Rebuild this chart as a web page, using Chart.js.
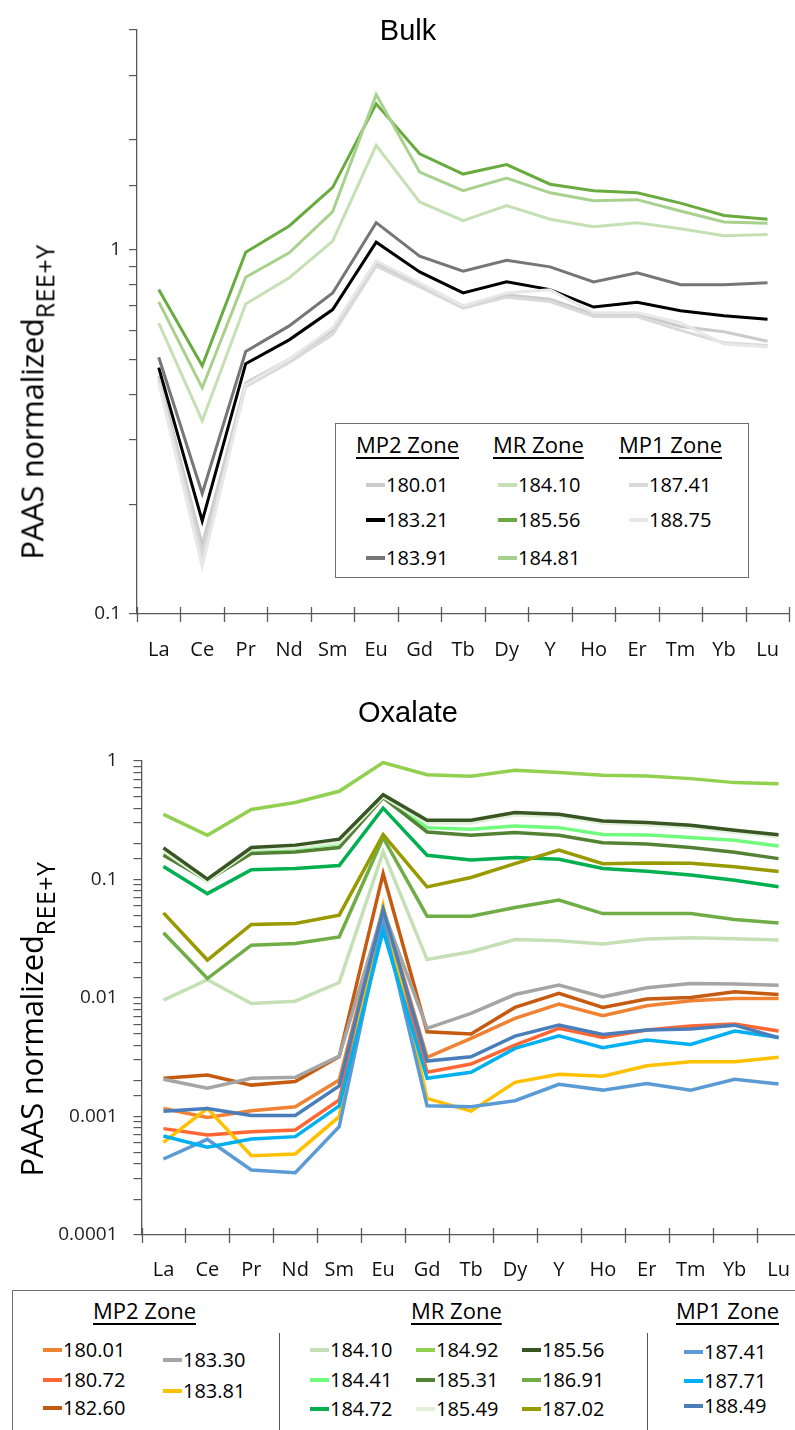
<!DOCTYPE html>
<html><head><meta charset="utf-8">
<script src="https://cdn.jsdelivr.net/npm/chart.js@4.4.1/dist/chart.umd.min.js"></script>
<style>
html,body{margin:0;padding:0;background:#fff;}
body{width:795px;height:1430px;overflow:hidden;position:relative;font-family:'Open Sans',sans-serif;color:#000;}
canvas{position:absolute;left:0;}
#c1{top:0;}
#c2{top:690px;}
.title{position:absolute;font-family:'Liberation Sans',Arial,sans-serif;font-size:29px;transform:translate(-50%,-50%);white-space:nowrap;}
.ytitle{position:absolute;font-size:31px;white-space:nowrap;transform:translate(-50%,-50%) rotate(-90deg);letter-spacing:-0.3px;line-height:1;}
.ytitle sub{font-size:25px;vertical-align:-0.45em;letter-spacing:0.5px;}
.box{position:absolute;border:1px solid #6f6f6f;background:#fff;}
.hdr{position:absolute;font-size:22px;text-decoration:underline;text-underline-offset:4px;text-decoration-thickness:2px;transform:translateY(-50%);white-space:nowrap;line-height:1;}
.ent{position:absolute;font-size:20px;transform:translateY(-50%);white-space:nowrap;line-height:1;}
.sw{position:absolute;height:4px;transform:translateY(-50%);}
.sep{position:absolute;width:1px;background:#555;}
</style>
</head><body>
<canvas id="c1" width="795" height="670"></canvas>
<canvas id="c2" width="805" height="600"></canvas>
<div id="ann"></div>
<script>
// ---------------- data ----------------
const categories = ['La','Ce','Pr','Nd','Sm','Eu','Gd','Tb','Dy','Y','Ho','Er','Tm','Yb','Lu'];

// Bulk samples
const bulkLabels = ['180.01','183.21','183.91','184.10','185.56','184.81','187.41','188.75'];
const bulk_180_01 = [0.45,0.155,0.43,0.50,0.60,0.92,0.80,0.70,0.75,0.73,0.665,0.665,0.615,0.595,0.56];
const bulk_183_21 = [0.474,0.180,0.486,0.565,0.684,1.047,0.868,0.76,0.815,0.776,0.695,0.716,0.679,0.658,0.644];
const bulk_183_91 = [0.506,0.214,0.525,0.617,0.76,1.185,0.958,0.872,0.934,0.896,0.815,0.863,0.80,0.80,0.81];
const bulk_184_10 = [0.628,0.339,0.709,0.836,1.054,1.93,1.35,1.20,1.32,1.21,1.155,1.184,1.14,1.09,1.10];
const bulk_185_56 = [0.776,0.48,0.983,1.16,1.48,2.51,1.83,1.61,1.71,1.51,1.45,1.43,1.34,1.24,1.21];
const bulk_184_81 = [0.718,0.417,0.839,0.979,1.27,2.66,1.63,1.45,1.57,1.43,1.36,1.37,1.275,1.19,1.18];
const bulk_187_41 = [0.44,0.145,0.42,0.49,0.585,0.90,0.79,0.69,0.74,0.72,0.655,0.655,0.60,0.555,0.545];
const bulk_188_75 = [0.43,0.135,0.425,0.50,0.61,0.93,0.81,0.70,0.76,0.775,0.67,0.67,0.63,0.55,0.54];
const bulkColors = ['#cbcbcb','#000000','#767676','#c5e0b4','#6aab40','#a9d18e','#d9d9d9','#e8e8e8'];

// Oxalate samples
const oxLabels = ['180.01','180.72','182.60','183.30','183.81','184.10','184.41','184.72','184.92','185.31','185.49','185.56','186.91','187.02','187.41','187.71','188.49'];
const ox_180_01 = [0.00117,0.00098,0.00112,0.00121,0.00203,0.058,0.00316,0.00456,0.00673,0.00889,0.00708,0.00859,0.00946,0.0099,0.0099];
const ox_180_72 = [0.00079,0.000698,0.000745,0.00077,0.00138,0.052,0.00236,0.00277,0.00401,0.00554,0.00465,0.00536,0.0058,0.00603,0.00526];
const ox_182_60 = [0.0021,0.00224,0.00184,0.00197,0.0032,0.112,0.00519,0.00496,0.00833,0.01094,0.00833,0.0098,0.0101,0.01128,0.0107];
const ox_183_30 = [0.00206,0.00173,0.0021,0.00214,0.00323,0.055,0.00554,0.00742,0.0107,0.01284,0.01023,0.0122,0.01328,0.0131,0.01284];
const ox_183_81 = [0.000606,0.00117,0.000467,0.000483,0.000996,0.06,0.00142,0.00111,0.00194,0.00227,0.00219,0.00268,0.0029,0.0029,0.00316];
const ox_184_10 = [0.0096,0.0143,0.0090,0.0094,0.0135,0.171,0.0211,0.0246,0.0312,0.0304,0.0285,0.0314,0.0322,0.0316,0.0308];
const ox_184_41 = [0.165,0.097,0.177,0.183,0.201,0.497,0.274,0.266,0.283,0.274,0.24,0.238,0.226,0.214,0.192];
const ox_184_72 = [0.129,0.076,0.121,0.124,0.131,0.40,0.160,0.146,0.153,0.148,0.124,0.1175,0.109,0.0986,0.0867];
const ox_184_92 = [0.355,0.236,0.39,0.446,0.555,0.97,0.767,0.743,0.835,0.80,0.757,0.748,0.71,0.657,0.644];
const ox_185_31 = [0.160,0.0986,0.166,0.171,0.186,0.49,0.252,0.236,0.249,0.236,0.204,0.199,0.186,0.17,0.150];
const ox_185_49 = [0.175,0.097,0.18,0.185,0.205,0.50,0.30,0.30,0.35,0.34,0.30,0.29,0.275,0.25,0.23];
const ox_185_56 = [0.185,0.1007,0.186,0.195,0.219,0.52,0.316,0.316,0.367,0.355,0.312,0.302,0.287,0.26,0.239];
const ox_186_91 = [0.0355,0.0146,0.0279,0.0288,0.0328,0.225,0.049,0.049,0.058,0.067,0.0516,0.0516,0.0516,0.046,0.043];
const ox_187_02 = [0.0523,0.0209,0.0417,0.0426,0.050,0.239,0.0867,0.104,0.136,0.177,0.136,0.138,0.137,0.128,0.117];
const ox_187_41 = [0.000438,0.000642,0.000354,0.000336,0.00082,0.045,0.00123,0.00121,0.00136,0.00187,0.00167,0.0019,0.00167,0.00206,0.00188];
const ox_187_71 = [0.000685,0.00055,0.000646,0.000676,0.00123,0.037,0.0021,0.00236,0.00376,0.0048,0.0038,0.00442,0.00406,0.00526,0.00465];
const ox_188_49 = [0.00111,0.00117,0.00102,0.00102,0.00181,0.056,0.00294,0.00319,0.00477,0.0059,0.00493,0.00536,0.00547,0.0059,0.00462];
const oxColors = ['#f08234','#ff6633','#c55a11','#a5a5a5','#ffc000','#c5e0b4','#6ffb7c','#00b050','#92d050','#548235','#e2efda','#375623','#70ad47','#999900','#5b9bd5','#00b0f0','#4a7ebb'];

const bulkTicks = ['1','0.1'];
const oxTicks = ['1','0.1','0.01','0.001','0.0001'];

// ---------------- charts ----------------
const bulkSeries = [bulk_180_01,bulk_183_21,bulk_183_91,bulk_184_10,bulk_185_56,bulk_184_81,bulk_187_41,bulk_188_75];
const oxSeries = [ox_180_01,ox_180_72,ox_182_60,ox_183_30,ox_183_81,ox_184_10,ox_184_41,ox_184_72,ox_184_92,ox_185_31,ox_185_49,ox_185_56,ox_186_91,ox_187_02,ox_187_41,ox_187_71,ox_188_49];

const AX = '#595959';
const crossTicks = {
  id:'crossTicks',
  afterDraw(chart){
    const x = chart.scales.x, ctx = chart.ctx;
    const n = x.ticks.length, w = (x.right - x.left)/n;
    ctx.save(); ctx.strokeStyle = AX; ctx.lineWidth = 1.3; ctx.beginPath();
    for(let i=0;i<=n;i++){ const px = Math.round(x.left + i*w)+0.5; ctx.moveTo(px, x.top-7); ctx.lineTo(px, x.top+8); }
    ctx.stroke(); ctx.restore();
  }
};

function makeChart(id, labels, series, colors, lw, yMin, yMax, tickLabels, leftW, pad, yPad, xPad){
  const n = series.length;
  const datasets = series.map((d,i)=>({label:labels[i], data:d, borderColor:colors[i], backgroundColor:colors[i],
    borderWidth:lw, pointRadius:0, tension:0, order:n-i, borderJoinStyle:'miter'}));
  return new Chart(document.getElementById(id), {
    type:'line',
    data:{labels:categories, datasets},
    options:{
      responsive:false, animation:false, devicePixelRatio:1,
      layout:{padding:pad},
      plugins:{legend:{display:false}, tooltip:{enabled:false}, title:{display:false}},
      scales:{
        x:{type:'category', offset:true,
           grid:{display:false, offset:true},
           border:{display:true, color:AX, width:1.3},
           ticks:{color:'#111', font:{family:'Open Sans', size:20}, padding:xPad, maxRotation:0, autoSkip:false},
           afterFit(s){ s.height = 50; }},
        y:{type:'logarithmic', min:yMin, max:yMax,
           grid:{display:true, drawOnChartArea:false, drawTicks:true, tickLength:8, color:AX, lineWidth:1.2},
           border:{display:true, color:AX, width:1.3},
           ticks:{autoSkip:false, color:'#222', font:{family:'Open Sans', size:19}, padding:yPad,
             callback(v){ const l = Math.log10(v); if (Math.abs(l - Math.round(l)) < 1e-6){ const s = String(Number(Number(v).toPrecision(1))); return tickLabels.includes(s) ? s : ''; } return ''; }},
           afterFit(s){ s.width = leftW; }}
      }
    },
    plugins:[crossTicks]
  });
}

makeChart('c1', bulkLabels, bulkSeries, bulkColors, 3, 0.1, 4, bulkTicks, 137, {top:30,right:3,bottom:6,left:0}, 8, 16);
makeChart('c2', oxLabels, oxSeries, oxColors, 3.5, 0.0001, 1, oxTicks, 141.5, {top:71,right:3,bottom:5,left:0}, 16, 15);

// ---------------- annotations (titles, legends) ----------------
const ann = document.getElementById('ann');
function el(cls, html, style){ const d = document.createElement('div'); d.className = cls; d.innerHTML = html; Object.assign(d.style, style); ann.appendChild(d); return d; }
el('title','Bulk',{left:'408px',top:'30px'});
el('title','Oxalate',{left:'408px',top:'712px'});
el('ytitle','PAAS normalized<sub>REE+Y</sub>',{left:'37px',top:'402px'});
el('ytitle','PAAS normalized<sub>REE+Y</sub>',{left:'37px',top:'1019px'});

function entry(label, color, swX, swW, txtX, y, sw){
  el('sw','',{left:swX+'px',top:y+'px',width:swW+'px',background:color,height:(sw||4)+'px'});
  el('ent',label,{left:txtX+'px',top:y+'px'});
}
// Bulk legend
el('box','',{left:'335px',top:'423px',width:'412px',height:'153px'});
el('hdr','MP2 Zone',{left:'356px',top:'444px'});
el('hdr','MR Zone',{left:'493px',top:'444px'});
el('hdr','MP1 Zone',{left:'619px',top:'444px'});
const bRows = [485,520,558];
const bCols = [[0,1,2],[3,4,5],[6,7]];
const bColX = [366,498,629];
bCols.forEach((col,ci)=>col.forEach((si,ri)=>entry(bulkLabels[si], bulkColors[si], bColX[ci], 19, bColX[ci]+20, bRows[ri])));

// Oxalate legend
el('box','',{left:'12px',top:'1290px',width:'800px',height:'200px'});
el('hdr','MP2 Zone',{left:'93px',top:'1310px'});
el('hdr','MR Zone',{left:'411px',top:'1310px'});
el('hdr','MP1 Zone',{left:'676px',top:'1310px'});
el('sep','',{left:'279px',top:'1333px',height:'100px'});
el('sep','',{left:'647px',top:'1333px',height:'100px'});
const oxGroups = [
  {idx:[0,1,2], x:43, rows:[1350,1380,1408]},
  {idx:[3,4], x:163, rows:[1360,1391]},
  {idx:[5,6,7], x:310, rows:[1350,1380,1409]},
  {idx:[8,9,10], x:416, rows:[1350,1380,1409]},
  {idx:[11,12,13], x:522, rows:[1350,1380,1409]},
  {idx:[14,15,16], x:684, rows:[1352,1381,1406]}
];
oxGroups.forEach(g=>g.idx.forEach((si,ri)=>entry(oxLabels[si], oxColors[si], g.x, 19, g.x+20, g.rows[ri])));
</script>
</body></html>
